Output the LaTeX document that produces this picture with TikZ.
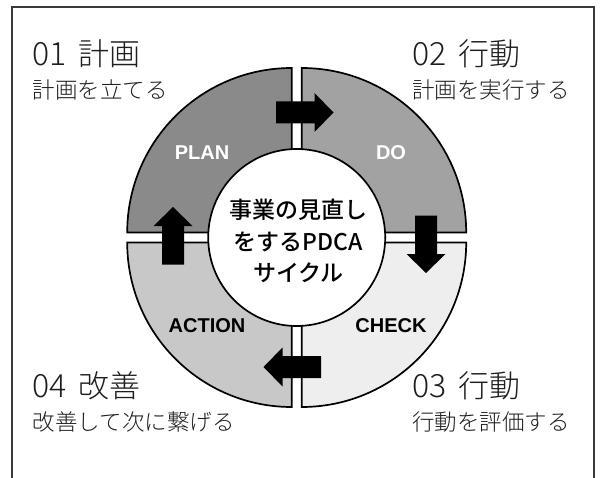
\documentclass[tikz,border=0pt]{standalone}
\usepackage{fontspec}
\setmainfont{Liberation Sans}
\newfontfamily\jp{Noto Sans CJK JP}[UprightFont=* Light]
\newfontfamily\jpmed{Noto Sans CJK JP}[UprightFont=* Medium]
\newfontfamily\lab{Liberation Sans}
\definecolor{planc}{HTML}{8A8A8A}
\definecolor{doc}{HTML}{A2A2A2}
\definecolor{checkc}{HTML}{EEEEEE}
\definecolor{actc}{HTML}{C8C8C8}
\definecolor{framec}{HTML}{3A3A3A}
\definecolor{txt}{HTML}{1E1E1E}
\newcommand\headtext[2]{\makebox[46pt][l]{\fontsize{32}{33}\selectfont #1}#2}
\tikzset{
  framebox/.style={draw=framec, line width=1.6pt},
  quad/.style={draw=black, line width=1.7pt, line join=miter},
  seglabel/.style={inner sep=0pt, font=\lab\bfseries\fontsize{20}{22}\selectfont},
  headlabel/.style={anchor=base west, inner sep=0pt, text=txt, font=\jp\fontsize{31}{33}\selectfont},
  sublabel/.style={anchor=base west, inner sep=0pt, text=txt, font=\jp\fontsize{22.5}{24}\selectfont},
  blockarr/.pic={\fill[black] (-28.5,-11) -- (10,-11) -- (10,-19.5) -- (29,0) -- (10,19.5) -- (10,11) -- (-28.5,11) -- cycle;}
}
\begin{document}
\begin{tikzpicture}[x=1pt,y=1pt]
\useasboundingbox (0,0) rectangle (601,477);
% frame
\draw[framebox] (11.7,-3) -- (11.7,470) -- (594,470) -- (594,-3);
% quadrant corners
\coordinate (pc) at (291.7,244.5);
\coordinate (dc) at (301.7,244.5);
\coordinate (cc) at (301.7,234.5);
\coordinate (ac) at (291.7,234.5);
\draw[quad, fill=planc] (pc) -- ++(-164.5,0) arc[start angle=180, end angle=90, radius=164.5] -- cycle;
\draw[quad, fill=doc] (dc) -- ++(0,164.5) arc[start angle=90, end angle=0, radius=164.5] -- cycle;
\draw[quad, fill=checkc] (cc) -- ++(164.5,0) arc[start angle=0, end angle=-90, radius=164.5] -- cycle;
\draw[quad, fill=actc] (ac) -- ++(0,-164.5) arc[start angle=270, end angle=180, radius=164.5] -- cycle;
% hub
\node[circle, draw=black, line width=1.7pt, fill=white, minimum size=177pt, inner sep=0pt] (hub) at (296.7,239.5) {};
\node[align=center, inner sep=0pt, font=\jpmed\fontsize{23}{31.5}\selectfont] (title) at (298.5,236) {事業の見直し\\をするPDCA\\サイクル};
% arrows
\pic[rotate=0] at (304.5,364.5) {blockarr};
\pic[rotate=-90] at (426,233) {blockarr};
\pic[rotate=180] at (292.5,110) {blockarr};
\pic[rotate=90] at (173,241) {blockarr};
% segment labels
\node[seglabel, text=white] (plan) at (202,324) {PLAN};
\node[seglabel, text=white] (do) at (391,324) {DO};
\node[seglabel, text=black] (check) at (391,151) {CHECK};
\node[seglabel, text=black] (action) at (207,151) {ACTION};
% corner labels
\node[headlabel] (h1) at (32.5,411) {\headtext{01}{計画}};
\node[sublabel] (s1) at (32.5,378) {計画を立てる};
\node[headlabel] (h2) at (412,411) {\headtext{02}{行動}};
\node[sublabel] (s2) at (412,378) {計画を実行する};
\node[headlabel] (h4) at (32.5,80) {\headtext{04}{改善}};
\node[sublabel] (s4) at (32.5,47) {改善して次に繋げる};
\node[headlabel] (h3) at (412,80) {\headtext{03}{行動}};
\node[sublabel] (s3) at (412,47) {行動を評価する};
\end{tikzpicture}
\end{document}
